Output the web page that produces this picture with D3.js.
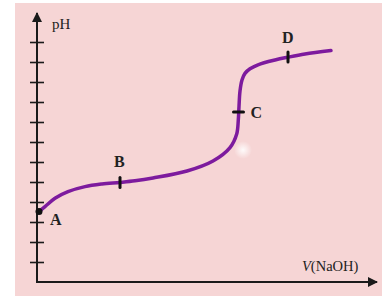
<!DOCTYPE html>
<meta charset="utf-8">
<script src="https://d3js.org/d3.v7.min.js"></script>
<style>
  body { margin: 0; background: #fff; }
  text { font-family: "Liberation Serif", "DejaVu Serif", serif; fill: #222; }
</style>
<body>
<div id="chart"></div>
<script>
// titration curve: volume of NaOH vs pH
const volume = [0.2, 0.8, 1.8, 3.1, 4.8, 6.5, 8.3, 9.8, 11.6, 15.0, 17.6, 19.3, 19.97, 20.13, 20.2, 20.3, 20.5, 20.8, 21.3, 22.1, 23.8, 25.1, 26.8, 29.4];
const pH     = [3.52, 3.77, 4.19, 4.52, 4.77, 4.9, 4.98, 5.06, 5.2, 5.55, 6.05, 6.72, 7.4, 8.1, 8.77, 9.55, 10.1, 10.43, 10.66, 10.86, 11.1, 11.24, 11.4, 11.57];

// marked points
const pointNames = ["A", "B", "C", "D"];
const pointV     = [0.2, 8.3, 20.15, 25.1];
const pointPH    = [3.52, 4.98, 8.5, 11.25];

const yTicks = [1, 2, 3, 4, 5, 6, 7, 8, 9, 10, 11, 12];

const W = 382, H = 296;
const svg = d3.select("#chart").append("svg")
  .attr("width", W).attr("height", H);

// pink panel
svg.append("rect")
  .attr("x", 15).attr("y", 3)
  .attr("width", W - 15).attr("height", H - 3)
  .attr("fill", "#f6d5d5");

// soft glare spot
const defs = svg.append("defs");
const grad = defs.append("radialGradient").attr("id", "glare");
grad.append("stop").attr("offset", "0%").attr("stop-color", "#fff").attr("stop-opacity", 0.9);
grad.append("stop").attr("offset", "100%").attr("stop-color", "#fff").attr("stop-opacity", 0);
svg.append("circle").attr("cx", 243).attr("cy", 150).attr("r", 9).attr("fill", "url(#glare)");

const x = d3.scaleLinear().domain([0, 34]).range([37, 377]);
const y = d3.scaleLinear().domain([0, 13]).range([282, 22]);

// arrow head
defs.append("marker")
  .attr("id", "arrow")
  .attr("viewBox", "0 0 10 10")
  .attr("refX", 9).attr("refY", 5)
  .attr("markerWidth", 5).attr("markerHeight", 5)
  .attr("markerUnits", "strokeWidth")
  .attr("orient", "auto")
  .append("path").attr("d", "M0,0 L10,5 L0,10 z").attr("fill", "#1a1a1a");

// axes
svg.append("line")
  .attr("x1", x(0)).attr("y1", y(0))
  .attr("x2", x(0)).attr("y2", 13)
  .attr("stroke", "#1a1a1a").attr("stroke-width", 2)
  .attr("marker-end", "url(#arrow)");
svg.append("line")
  .attr("x1", x(0) - 1).attr("y1", y(0))
  .attr("x2", 377).attr("y2", y(0))
  .attr("stroke", "#1a1a1a").attr("stroke-width", 2)
  .attr("marker-end", "url(#arrow)");

// tick marks crossing the y axis
const yAxis = svg.append("g")
  .attr("transform", `translate(${x(0) + 7},0)`)
  .call(d3.axisLeft(y).tickValues(yTicks).tickSize(14).tickFormat(""));
yAxis.select(".domain").remove();
yAxis.selectAll("line").attr("stroke", "#1a1a1a").attr("stroke-width", 1.6);

svg.append("text").attr("x", 52).attr("y", 29)
  .style("font-size", "15px").text("pH");

const xl = svg.append("text").attr("x", 302).attr("y", 271)
  .style("font-size", "14.5px");
xl.append("tspan").style("font-style", "italic").text("V");
xl.append("tspan").text("(NaOH)");

// the curve
const pts = volume.map((v, i) => [x(v), y(pH[i])]);
svg.append("path")
  .attr("d", d3.line().curve(d3.curveCatmullRom.alpha(0.5))(pts))
  .attr("fill", "none")
  .attr("stroke", "#7d1b9e")
  .attr("stroke-width", 3.5)
  .attr("stroke-linecap", "round");

// markers on the curve
const tickDir = ["dot", "v", "h", "v"];
const labelDx = [11, -6, 12, -6];
const labelDy = [13, -15, 6, -14];
pointNames.forEach((name, i) => {
  const px = x(pointV[i]), py = y(pointPH[i]);
  if (tickDir[i] === "dot") {
    svg.append("circle").attr("cx", px).attr("cy", py).attr("r", 3.5).attr("fill", "#111");
  } else if (tickDir[i] === "v") {
    svg.append("line").attr("x1", px).attr("x2", px).attr("y1", py - 5).attr("y2", py + 5)
      .attr("stroke", "#111").attr("stroke-width", 3).attr("stroke-linecap", "round");
  } else {
    svg.append("line").attr("x1", px - 5).attr("x2", px + 5).attr("y1", py).attr("y2", py)
      .attr("stroke", "#111").attr("stroke-width", 3).attr("stroke-linecap", "round");
  }
  svg.append("text")
    .attr("x", px + labelDx[i]).attr("y", py + labelDy[i])
    .style("font-size", "16px").style("font-weight", "bold")
    .text(name);
});
</script>
</body>
